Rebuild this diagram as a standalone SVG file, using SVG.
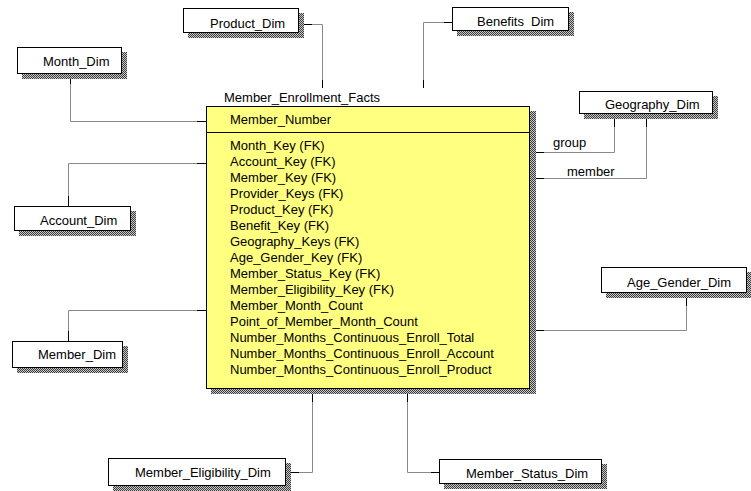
<svg xmlns="http://www.w3.org/2000/svg" width="751" height="491" viewBox="0 0 751 491">
<defs>
<pattern id="hatch" width="2" height="2" patternUnits="userSpaceOnUse">
<rect width="2" height="2" fill="#c8c8c8"/>
<rect width="1" height="1" fill="#3c3c3c"/>
<rect x="1" y="1" width="1" height="1" fill="#3c3c3c"/>
</pattern>
</defs>
<style>
text{font-family:"Liberation Sans",Arial,sans-serif;font-size:13px;fill:#000}
.box{fill:#fff;stroke:#000;stroke-width:1}
.fact{fill:#ffff80;stroke:#000;stroke-width:1}
.sh{fill:url(#hatch)}
.conn{fill:none;stroke:#8a8a8a;stroke-width:1}
.stub{fill:none;stroke:#000;stroke-width:1}
</style>
<rect width="751" height="491" fill="#fff"/>

<g id="connectors">
<path class="conn" d="M70.5,74 V121.5 H206"/>
<path class="stub" d="M70.5,74 V84 M197,121.5 H206"/>
<path class="conn" d="M304,24.5 H322.5 V88"/>
<path class="stub" d="M304,24.5 H312 M322.5,80 V88"/>
<path class="conn" d="M452,22.5 H423.5 V88"/>
<path class="stub" d="M444,22.5 H452 M423.5,80 V88"/>
<path class="conn" d="M68.5,206 V163.5 H206"/>
<path class="stub" d="M68.5,196 V206 M197,163.5 H206"/>
<path class="conn" d="M68.5,341 V310.5 H206"/>
<path class="stub" d="M68.5,331 V341 M197,310.5 H206"/>
<path class="conn" d="M536,152.5 H614.5 V119"/>
<path class="stub" d="M536,152.5 H544 M614.5,119 V127"/>
<path class="conn" d="M536,178.5 H646.5 V119"/>
<path class="stub" d="M536,178.5 H544 M646.5,119 V127"/>
<path class="conn" d="M536,330.5 H686.5 V298"/>
<path class="stub" d="M536,330.5 H544 M686.5,298 V306"/>
<path class="conn" d="M312.5,394 V472.5 H291"/>
<path class="stub" d="M312.5,394 V402 M291,472.5 H299"/>
<path class="conn" d="M407.5,394 V472.5 H439"/>
<path class="stub" d="M407.5,394 V402 M431,472.5 H439"/>
<text x="553" y="147">group</text>
<text x="567" y="176">member</text>
</g>

<g id="Member_Enrollment_Facts">
<text x="224" y="102">Member_Enrollment_Facts</text>
<rect class="sh" x="211" y="111" width="325" height="283"/>
<rect class="fact" x="206.5" y="106.5" width="323" height="282"/>
<line x1="206" y1="132.5" x2="530" y2="132.5" stroke="#000"/>
<text x="230" y="124">Member_Number</text>
<text x="230" y="150">Month_Key (FK)</text>
<text x="230" y="166">Account_Key (FK)</text>
<text x="230" y="182">Member_Key (FK)</text>
<text x="230" y="198">Provider_Keys (FK)</text>
<text x="230" y="214">Product_Key (FK)</text>
<text x="230" y="230">Benefit_Key (FK)</text>
<text x="230" y="246">Geography_Keys (FK)</text>
<text x="230" y="262">Age_Gender_Key (FK)</text>
<text x="230" y="278">Member_Status_Key (FK)</text>
<text x="230" y="294">Member_Eligibility_Key (FK)</text>
<text x="230" y="310">Member_Month_Count</text>
<text x="230" y="326">Point_of_Member_Month_Count</text>
<text x="230" y="342">Number_Months_Continuous_Enroll_Total</text>
<text x="230" y="358">Number_Months_Continuous_Enroll_Account</text>
<text x="230" y="374">Number_Months_Continuous_Enroll_Product</text>
</g>

<g id="Product_Dim">
<rect class="sh" x="188" y="13" width="116" height="25"/>
<rect class="box" x="183.5" y="8.5" width="115" height="24"/>
<text x="210" y="27.5">Product_Dim</text>
</g>

<g id="Benefits_Dim">
<rect class="sh" x="457" y="12" width="117" height="24"/>
<rect class="box" x="452.5" y="7.5" width="116" height="23"/>
<text x="477" y="26">Benefits <tspan x="531">Dim</tspan></text>
</g>

<g id="Month_Dim">
<rect class="sh" x="22" y="52" width="105" height="27"/>
<rect class="box" x="17.5" y="47.5" width="104" height="26"/>
<text x="43" y="66">Month_Dim</text>
</g>

<g id="Geography_Dim">
<rect class="sh" x="584" y="96" width="134" height="23"/>
<rect class="box" x="579.5" y="91.5" width="133" height="22"/>
<text x="605" y="108.5">Geography_Dim</text>
</g>

<g id="Account_Dim">
<rect class="sh" x="19" y="211" width="117" height="25"/>
<rect class="box" x="14.5" y="206.5" width="116" height="24"/>
<text x="40" y="224.5">Account_Dim</text>
</g>

<g id="Member_Dim">
<rect class="sh" x="17" y="346" width="111" height="27"/>
<rect class="box" x="12.5" y="341.5" width="110" height="26"/>
<text x="38" y="358.5">Member_Dim</text>
</g>

<g id="Age_Gender_Dim">
<rect class="sh" x="606" y="272" width="146" height="26"/>
<rect class="box" x="601.5" y="267.5" width="145" height="25"/>
<text x="627" y="286.5">Age_Gender_Dim</text>
</g>

<g id="Member_Eligibility_Dim">
<rect class="sh" x="113" y="463" width="178" height="28"/>
<rect class="box" x="108.5" y="458.5" width="177" height="27"/>
<text x="135" y="476.5">Member_Eligibility_Dim</text>
</g>

<g id="Member_Status_Dim">
<rect class="sh" x="444" y="464" width="163" height="25"/>
<rect class="box" x="439.5" y="459.5" width="162" height="24"/>
<text x="466" y="477.5">Member_Status_Dim</text>
</g>
</svg>
